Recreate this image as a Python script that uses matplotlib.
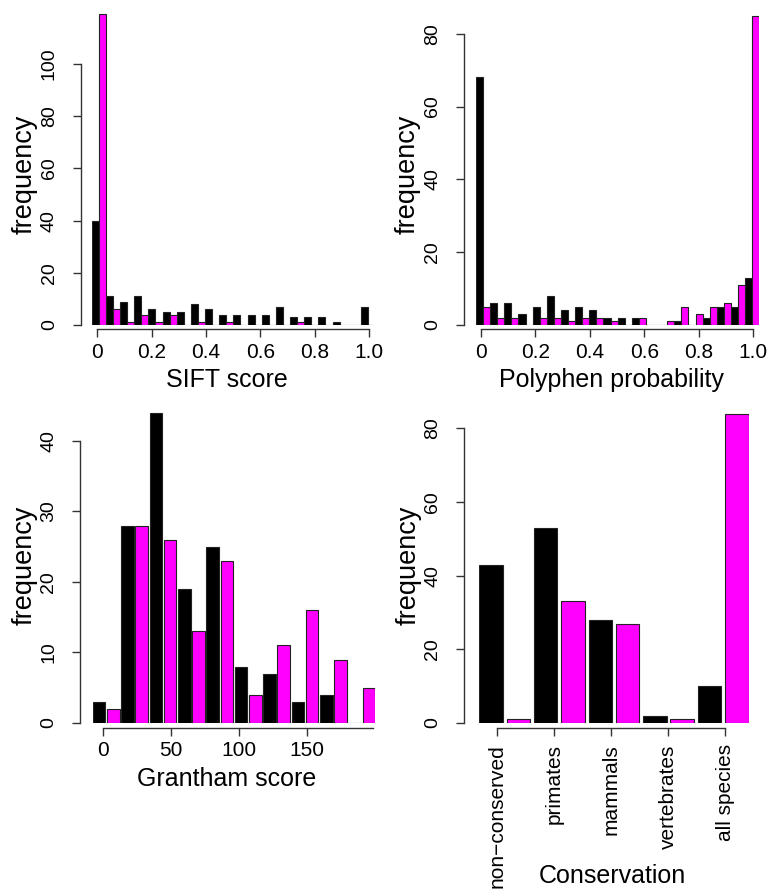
import matplotlib
matplotlib.use('Agg')
import matplotlib.pyplot as plt
import numpy as np

plt.rcParams['font.family'] = ['Liberation Sans', 'DejaVu Sans']

# counts per bin, black = first set, magenta = second set
sift_black = [40, 11, 9, 11, 6, 5, 5, 8, 6, 4, 4, 4, 4, 7, 3, 3, 3, 1, 0, 7]
sift_pink = [119, 6, 1, 4, 1, 4, 0, 1, 0, 1, 0, 0, 0, 0, 1, 0, 0, 0, 0, 0]
sift_ticks = [0, 0.2, 0.4, 0.6, 0.8, 1.0]
sift_ticklabels = ['0', '0.2', '0.4', '0.6', '0.8', '1.0']

poly_black = [68, 6, 6, 3, 5, 8, 4, 5, 4, 2, 2, 2, 0, 0, 1, 0, 2, 5, 5, 13]
poly_pink = [5, 2, 2, 0, 2, 2, 1, 2, 2, 1, 0, 2, 0, 1, 5, 3, 5, 6, 11, 85]
poly_ticks = [0, 0.2, 0.4, 0.6, 0.8, 1.0]
poly_ticklabels = ['0', '0.2', '0.4', '0.6', '0.8', '1.0']

gran_black = [3, 28, 44, 19, 25, 8, 7, 3, 4, 0]
gran_pink = [2, 28, 26, 13, 23, 4, 11, 16, 9, 5]
gran_ticks = [0, 50, 100, 150]
gran_ticklabels = ['0', '50', '100', '150']

cons_cats = ['non\u2212conserved', 'primates', 'mammals', 'vertebrates', 'all species']
cons_black = [43, 53, 28, 2, 10]
cons_pink = [1, 33, 27, 1, 84]

BLACK = 'black'
PINK = '#ff00ff'
EDGE = '#222222'
AXC = '#333333'
W, H = 770, 889
PX = 72 / 100  # points per pixel

fig = plt.figure(figsize=(W / 100, H / 100), dpi=100)


def place(l, t, r, b):
    ax = fig.add_axes([l / W, 1 - b / H, (r - l) / W, (b - t) / H])
    ax._px = (l, t, r, b)
    return ax


def to_axes(ax, x, y):
    l, t, r, b = ax._px
    return (x - l) / (r - l), (b - y) / (b - t)


def panel(ax, black, pink, width, ymax, yticks, left_off, ylab_x, ylab_y):
    n = len(black)
    pos = np.arange(n) * 2
    ax.bar(pos, black, width=width, align='edge', color=BLACK,
           edgecolor=EDGE, linewidth=0.8)
    ax.bar(pos + 1, pink, width=width, align='edge', color=PINK,
           edgecolor=EDGE, linewidth=0.8)
    ax.set_ylim(0, ymax)
    ax.set_yticks(yticks)
    for s in ['top', 'right']:
        ax.spines[s].set_visible(False)
    ax.spines['left'].set_position(('outward', left_off * PX))
    ax.spines['bottom'].set_position(('outward', 4.5 * PX))
    ax.spines['left'].set_bounds(yticks[0], yticks[-1])
    for s in ['left', 'bottom']:
        ax.spines[s].set_color(AXC)
        ax.spines[s].set_linewidth(1.0)
    ax.tick_params(direction='out', length=6, width=1.0, color=AXC)
    ax.tick_params(axis='y', pad=10.5, labelsize=14, labelrotation=90)
    ax.tick_params(axis='x', pad=4, labelsize=15)
    ax.set_ylabel('frequency', fontsize=19.5)
    ax.yaxis.label.set_va('center')
    ax.yaxis.set_label_coords(*to_axes(ax, ylab_x, ylab_y))


def xlabel(ax, text, x, y):
    ax.set_xlabel(text, fontsize=18)
    ax.xaxis.label.set_va('center')
    ax.xaxis.set_label_coords(*to_axes(ax, x, y))


def fix_ylabels(ax):
    for lbl in ax.get_yticklabels():
        lbl.set_va('center')


# SIFT
ax1 = place(91.7, 9.2, 375, 325)
panel(ax1, sift_black, sift_pink, 1.0, 121, [0, 20, 40, 60, 80, 100], 11, 25, 174)
ax1.set_xlim(0, 40)
t = [0.8 + v * 38.35 for v in sift_ticks]
ax1.set_xticks(t, sift_ticklabels)
ax1.spines['bottom'].set_bounds(t[0], t[-1])
xlabel(ax1, 'SIFT score', 227, 380)

# Polyphen
ax2 = place(476, 8.3, 759.3, 325)
panel(ax2, poly_black, poly_pink, 1.0, 87, [0, 20, 40, 60, 80], 11.7, 408, 174)
ax2.set_xlim(0, 40)
t = [0.7 + v * 38.45 for v in poly_ticks]
ax2.set_xticks(t, poly_ticklabels)
ax2.spines['bottom'].set_bounds(t[0], t[-1])
xlabel(ax2, 'Polyphen probability', 611, 380)

# Grantham
ax3 = place(92.7, 405.7, 375.3, 723)
panel(ax3, gran_black, gran_pink, 0.9, 45, [0, 10, 20, 30, 40], 12.7, 25, 565)
ax3.set_xlim(0, 19.9)
t = [0.75 + v * 0.0954 for v in gran_ticks]
ax3.set_xticks(t, gran_ticklabels)
ax3.spines['bottom'].set_bounds(t[0], 0.75 + 199 * 0.0954)
xlabel(ax3, 'Grantham score', 227, 779)

# Conservation
ax4 = place(479.3, 406.2, 748.5, 723)
panel(ax4, cons_black, cons_pink, 0.86, 86, [0, 20, 40, 60, 80], 15, 409, 565)
ax4.set_xlim(0, 9.86)
t = [0.66 + i * 2.085 for i in range(len(cons_cats))]
ax4.set_xticks(t, cons_cats)
ax4.tick_params(axis='x', pad=6, labelrotation=90, labelsize=15)
ax4.spines['bottom'].set_bounds(t[0], t[-1])
xlabel(ax4, 'Conservation', 612, 876)

for ax in (ax1, ax2, ax3, ax4):
    fix_ylabels(ax)

fig.savefig('out.png', dpi=100)
